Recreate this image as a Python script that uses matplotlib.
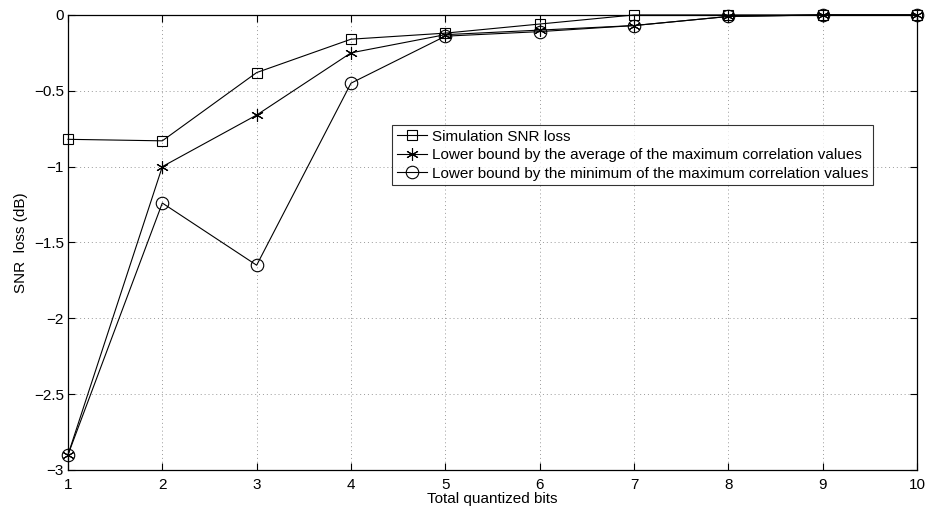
import numpy as np
import matplotlib
matplotlib.use("Agg")
import matplotlib.pyplot as plt

# =========================
# Data
# =========================
BITS = [1, 2, 3, 4, 5, 6, 7, 8, 9, 10]
SIM_LOSS = [-0.82, -0.83, -0.38, -0.16, -0.12, -0.06, 0.0, 0.0, 0.0, 0.0]
AVG_BOUND = [-2.90, -1.00, -0.66, -0.25, -0.13, -0.10, -0.07, -0.01, 0.0, 0.0]
MIN_BOUND = [-2.90, -1.24, -1.65, -0.45, -0.14, -0.11, -0.07, -0.01, 0.0, 0.0]

LABELS = [
    "Simulation SNR loss",
    "Lower bound by the average of the maximum correlation values",
    "Lower bound by the minimum of the maximum correlation values",
]
Y_TICKS = [-3, -2.5, -2, -1.5, -1, -0.5, 0]

plt.rcParams["font.family"] = ["Liberation Sans", "DejaVu Sans"]
plt.rcParams["axes.unicode_minus"] = True


def main():
    fig = plt.figure(figsize=(9.3, 5.15), dpi=100)
    ax = fig.add_axes([0.0731, 0.0874, 0.9129, 0.8836])

    style = dict(color="black", linewidth=0.8, markerfacecolor="none",
                 markeredgecolor="black", markeredgewidth=0.8, clip_on=False,
                 zorder=3)
    ax.plot(BITS, SIM_LOSS, marker="s", markersize=7, label=LABELS[0], **style)
    ax.plot(BITS, AVG_BOUND, marker=(6, 2, 0), markersize=9, label=LABELS[1], **style)
    ax.plot(BITS, MIN_BOUND, marker="o", markersize=9, label=LABELS[2], **style)

    ax.set_xlim(1, 10)
    ax.set_ylim(-3, 0)
    ax.set_xticks(BITS)
    ax.set_yticks(Y_TICKS)
    ax.set_yticklabels([f"{v:g}".replace("-", "\u2212") for v in Y_TICKS])

    ax.grid(True, linestyle=(0, (1, 3)), color="#999999", linewidth=0.7)
    ax.tick_params(direction="in", top=True, right=True, length=5,
                   width=0.8, labelsize=11, pad=3)
    ax.tick_params(axis="x", pad=6)
    for sp in ax.spines.values():
        sp.set_linewidth(0.9)

    ax.set_xlabel("Total quantized bits", fontsize=11, labelpad=0)
    ax.set_ylabel("SNR  loss (dB)", fontsize=11, labelpad=4)

    leg = ax.legend(loc="upper left", bbox_to_anchor=(0.382, 0.758),
                    fontsize=11, frameon=True, fancybox=False,
                    edgecolor="black", borderpad=0.3, labelspacing=0.3,
                    handlelength=2.0, handletextpad=0.3, borderaxespad=0)
    leg.get_frame().set_linewidth(0.8)

    fig.savefig("out.png", dpi=100)


if __name__ == "__main__":
    main()
